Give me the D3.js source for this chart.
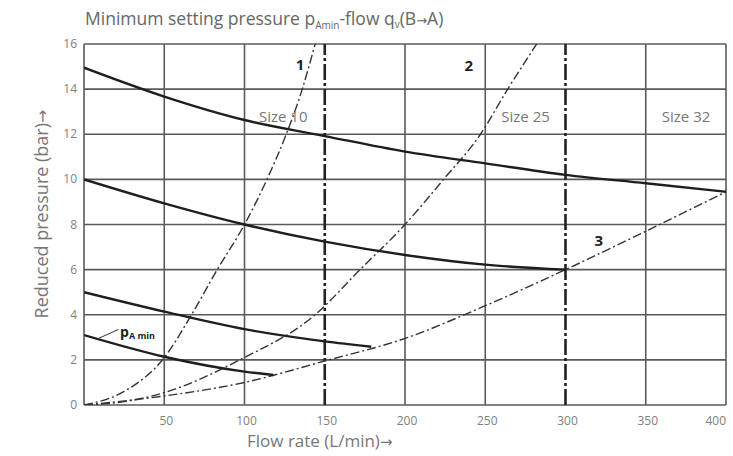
<!DOCTYPE html>
<html>
<head>
<meta charset="utf-8">
<script src="https://cdn.jsdelivr.net/npm/d3@7"></script>
<style>
  body { margin: 0; background: #fff; }
  text { font-family: "Open Sans", "Noto Sans", sans-serif; }
  .arrow { font-family: "DejaVu Sans", sans-serif; }
</style>
</head>
<body>
<div id="chart"></div>
<script>
var width = 733;
var height = 456;

var xTicks = [50, 100, 150, 200, 250, 300, 350, 400];
var yTicks = [0, 2, 4, 6, 8, 10, 12, 14, 16];
var sizeLines = [150, 300];

// solid pressure curves [flow, bar]
var curveA = [[0, 14.95], [50, 13.67], [100, 12.63], [150, 11.92], [200, 11.23], [250, 10.71], [300, 10.2], [350, 9.83], [400, 9.45]];
var curveB = [[0, 10], [50, 8.94], [100, 8.0], [150, 7.24], [200, 6.65], [250, 6.22], [300, 6.0]];
var curveC = [[0, 5], [50, 4.14], [100, 3.36], [150, 2.82], [179, 2.58]];
var curveD = [[0, 3.1], [50, 2.14], [100, 1.48], [118, 1.33]];

// dash-dot flow curves
var flow1 = [[0, 0], [25, 0.6], [50, 2.1], [67, 4], [83, 6], [100, 8], [114, 10], [126, 12], [136, 14], [144, 16]];
var flow2 = [[0, 0], [25, 0.15], [50, 0.55], [97, 2], [144, 4], [172, 6], [200, 8], [224, 10], [247, 12], [264, 14], [282, 16]];
var flow3 = [[0, 0], [50, 0.4], [100, 1.0], [150, 1.95], [200, 2.95], [250, 4.4], [300, 6.0], [350, 7.7], [400, 9.45]];

var sizeLabels = [{ text: "Size 10", x: 109 }, { text: "Size 25", x: 260 }, { text: "Size 32", x: 360 }];

var margin = { left: 84, right: 7, top: 44, bottom: 51 };

function main() {
  var svg = d3.select("#chart")
    .append("svg")
    .attr("width", width)
    .attr("height", height);

  var x = d3.scaleLinear().domain([0, 400]).range([margin.left, width - margin.right]);
  var y = d3.scaleLinear().domain([0, 16]).range([height - margin.bottom, margin.top]);

  var gridColor = "#5a5a5a";

  // horizontal grid
  svg.append("g").selectAll("line")
    .data(yTicks)
    .enter().append("line")
    .attr("x1", x(0)).attr("x2", x(400))
    .attr("y1", function(d) { return y(d); })
    .attr("y2", function(d) { return y(d); })
    .style("stroke", gridColor)
    .style("stroke-width", 1.6);

  // vertical grid (except size lines)
  svg.append("g").selectAll("line")
    .data([0].concat(xTicks.filter(function(d) { return sizeLines.indexOf(d) < 0; })))
    .enter().append("line")
    .attr("x1", function(d) { return x(d); })
    .attr("x2", function(d) { return x(d); })
    .attr("y1", y(0)).attr("y2", y(16))
    .style("stroke", gridColor)
    .style("stroke-width", 1.6);

  // size separators
  svg.append("g").selectAll("line")
    .data(sizeLines)
    .enter().append("line")
    .attr("x1", function(d) { return x(d); })
    .attr("x2", function(d) { return x(d); })
    .attr("y1", y(0)).attr("y2", y(16))
    .style("stroke", "#222")
    .style("stroke-width", 2.6)
    .style("stroke-dasharray", "16,3,3,3");

  // tick labels
  svg.append("g").selectAll("text")
    .data(yTicks)
    .enter().append("text")
    .attr("x", 77)
    .attr("y", function(d) { return y(d) + 4; })
    .attr("text-anchor", "end")
    .style("font-size", "12px")
    .style("fill", "#808080")
    .text(function(d) { return d; });

  svg.append("g").selectAll("text")
    .data(xTicks)
    .enter().append("text")
    .attr("x", function(d) { return d === 400 ? x(d) : x(d) + 2; })
    .attr("y", 425)
    .attr("text-anchor", function(d) { return d === 400 ? "end" : "middle"; })
    .style("font-size", "12px")
    .style("fill", "#808080")
    .text(function(d) { return d; });

  var line = d3.line()
    .x(function(d) { return x(d[0]); })
    .y(function(d) { return y(d[1]); })
    .curve(d3.curveMonotoneX);

  svg.append("clipPath").attr("id", "plot")
    .append("rect")
    .attr("x", x(0)).attr("y", y(16))
    .attr("width", x(400) - x(0)).attr("height", y(0) - y(16));

  var curves = svg.append("g").attr("clip-path", "url(#plot)");

  [flow1, flow2, flow3].forEach(function(c) {
    curves.append("path")
      .attr("d", line(c))
      .style("fill", "none")
      .style("stroke", "#333")
      .style("stroke-width", 1.4)
      .style("stroke-dasharray", "9,3,2,3");
  });

  [curveA, curveB, curveC, curveD].forEach(function(c) {
    curves.append("path")
      .attr("d", line(c))
      .style("fill", "none")
      .style("stroke", "#1e1e1e")
      .style("stroke-width", 2.4);
  });

  // curve numbers
  var nums = [{ t: "1", x: 132, y: 14.85 }, { t: "2", x: 237, y: 14.8 }, { t: "3", x: 318, y: 7.05 }];
  svg.append("g").selectAll("text")
    .data(nums)
    .enter().append("text")
    .attr("x", function(d) { return x(d.x); })
    .attr("y", function(d) { return y(d.y); })
    .style("font-size", "15px")
    .style("font-weight", "bold")
    .style("fill", "#222")
    .text(function(d) { return d.t; });

  svg.append("g").selectAll("text")
    .data(sizeLabels)
    .enter().append("text")
    .attr("x", function(d) { return x(d.x); })
    .attr("y", y(12.55))
    .style("font-size", "15px")
    .style("fill", "#777")
    .text(function(d) { return d.text; });

  // pA min label with leader
  svg.append("line")
    .attr("x1", x(9)).attr("y1", y(2.95))
    .attr("x2", x(21.5)).attr("y2", y(3.35))
    .style("stroke", "#333")
    .style("stroke-width", 1);
  var pl = svg.append("text")
    .attr("x", x(22.5)).attr("y", y(3.0))
    .style("font-weight", "bold")
    .style("fill", "#222");
  pl.append("tspan").style("font-size", "14px").text("p");
  pl.append("tspan").attr("dy", 2).style("font-size", "9px").text("A min");

  // title
  var title = svg.append("text")
    .attr("x", 85).attr("y", 25)
    .style("font-size", "17.5px")
    .style("fill", "#666");
  title.append("tspan").text("Minimum setting pressure p");
  title.append("tspan").attr("dy", 4).style("font-size", "10px").text("Amin");
  title.append("tspan").attr("dy", -4).text("-flow q");
  title.append("tspan").attr("dy", 3).style("font-size", "10px").text("v");
  title.append("tspan").attr("dy", -3).text("(B");
  title.append("tspan").attr("class", "arrow").style("font-size", "13px").text("\u2192");
  title.append("tspan").text("A)");

  // axis titles
  var xt = svg.append("text")
    .attr("x", 247).attr("y", 447)
    .style("font-size", "17px")
    .style("fill", "#777");
  xt.append("tspan").text("Flow rate (L/min)");
  xt.append("tspan").attr("class", "arrow").style("font-size", "15px").text("\u2192");

  var yt = svg.append("text")
    .attr("transform", "translate(48,214) rotate(-90)")
    .attr("text-anchor", "middle")
    .style("font-size", "18px")
    .style("fill", "#777");
  yt.append("tspan").text("Reduced pressure (bar)");
  yt.append("tspan").attr("class", "arrow").style("font-size", "16px").text("\u2192");
}

window.onload = function() {
  main();
};
</script>
</body>
</html>
